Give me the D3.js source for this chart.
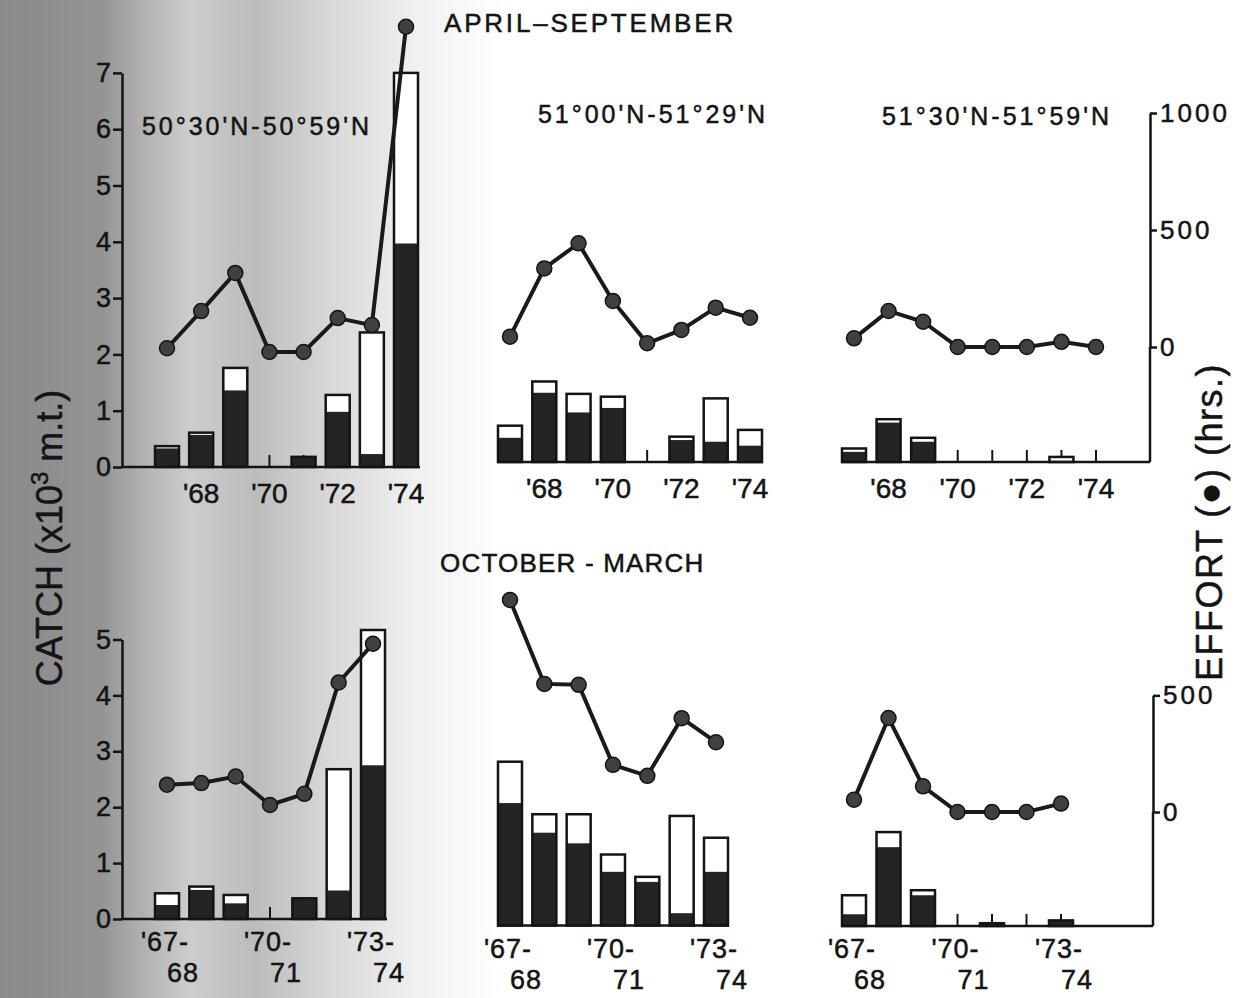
<!DOCTYPE html>
<html>
<head>
<meta charset="utf-8">
<script src="https://cdn.jsdelivr.net/npm/d3@7"></script>
<style>
  body { margin: 0; background: #fff; }
  svg { display: block; font-family: "Liberation Sans", Arial, sans-serif; }
  svg text { stroke: #141414; stroke-width: 0.5px; }
</style>
</head>
<body>
<div id="chart"></div>
<script>
// categories
const summerYears = ["1967", "1968", "1969", "1970", "1971", "1972", "1973", "1974"]
const winterSeasons = ["1967-68", "1968-69", "1969-70", "1970-71", "1971-72", "1972-73", "1973-74"]
const latBands = ["50°30'N-50°59'N", "51°00'N-51°29'N", "51°30'N-51°59'N"]

// April-September, catch (x10^3 t): total bar height and dark (lower) part, effort (hrs)
const aprTotal50 = [0.37, 0.61, 1.76, 0, 0.18, 1.28, 2.39, 7.0]
const aprDark50 = [0.33, 0.57, 1.36, 0, 0.18, 0.98, 0.23, 3.97]
const aprEffort50 = [16, 175, 338, 0, 0, 145, 115, 1390]

const aprTotal51a = [0.645, 1.43, 1.21, 1.16, 0, 0.45, 1.13, 0.57]
const aprDark51a = [0.43, 1.23, 0.88, 0.96, 0, 0.39, 0.36, 0.29]
const aprEffort51a = [44, 336, 443, 197, 16, 73, 168, 125]

const aprTotal51b = [0.24, 0.76, 0.43, 0, 0, 0, 0.09, 0]
const aprDark51b = [0.18, 0.70, 0.36, 0, 0, 0, 0, 0]
const aprEffort51b = [37, 154, 108, 0, 0, 0, 22, 0]

// October-March
const octTotal50 = [0.46, 0.58, 0.43, 0, 0.37, 2.68, 5.17]
const octDark50 = [0.25, 0.52, 0.28, 0, 0.37, 0.51, 2.75]
const octEffort50 = [87, 94, 122, 0, 48, 525, 691]

const octTotal51a = [2.93, 1.99, 1.99, 1.27, 0.87, 1.96, 1.57]
const octDark51a = [2.19, 1.66, 1.47, 0.96, 0.78, 0.22, 0.96]
const octEffort51a = [907, 547, 543, 200, 153, 400, 297]

const octTotal51b = [0.55, 1.68, 0.64, 0, 0.05, 0, 0.1]
const octDark51b = [0.21, 1.41, 0.55, 0, 0.05, 0, 0.1]
const octEffort51b = [53, 403, 110, 0, 0, 0, 36]

// tick labels
const summerTicks = ["1968", "1970", "1972", "1974"]
const summerTickLabels = ["'68", "'70", "'72", "'74"]
const winterTicks = ["1967-68", "1970-71", "1973-74"]
const winterTickLabels = [["'67-", "68"], ["'70-", "71"], ["'73-", "74"]]

const catchTicksTop = [0, 1, 2, 3, 4, 5, 6, 7]
const catchTicksBottom = [0, 1, 2, 3, 4, 5]
const effortTicksTop = [0, 500, 1000]
const effortTicksBottom = [0, 500]

const width = 1235, height = 998
const ink = "#141414"
const barW = 24

const svg = d3.select("#chart").append("svg")
    .attr("width", width).attr("height", height)

// scanned-page shading on the left
const grad = svg.append("defs").append("linearGradient")
    .attr("id", "scan").attr("gradientUnits", "userSpaceOnUse")
    .attr("x1", 0).attr("x2", width).attr("y1", 0).attr("y2", 0)
const stops = [[0, "#8a8a8a"], [100, "#939393"], [150, "#b6b6b6"], [190, "#cdcdcd"],
               [255, "#bcbcbc"], [330, "#d8d8d8"], [420, "#f1f1f1"], [500, "#ffffff"]]
stops.forEach(s => grad.append("stop").attr("offset", s[0] / width).attr("stop-color", s[1]))
svg.append("rect").attr("width", width).attr("height", height).attr("fill", "url(#scan)")

function drawPanel(p) {
    const g = svg.append("g")
    const x = d3.scalePoint().domain(p.cats).range([p.x0, p.x1])
    const y = d3.scaleLinear().domain([0, p.catchMax])
                .range([p.base, p.base - p.catchMax * p.catchPx])
    const zero = p.base - p.zeroOff
    const e = d3.scaleLinear().domain([0, p.effortMax])
                .range([zero, zero - p.effortMax * p.effortPx])

    const first = p.cats[0], last = p.cats[p.cats.length - 1]
    const axisFrom = p.leftX != null ? p.leftX : x(first) - barW / 2 - 1
    const axisTo = p.rightX != null ? p.rightX : x(last) + barW / 2 + p.tail

    // small ticks on the x axis for every year
    g.selectAll(".xt").data(p.cats).enter().append("line")
        .attr("x1", d => x(d)).attr("x2", d => x(d))
        .attr("y1", p.base).attr("y2", p.base - 12)
        .style("stroke", ink).style("stroke-width", 2)

    const rows = p.cats.map((c, i) => ({ c: c, total: p.total[i], dark: p.dark[i], effort: p.effort[i] }))
    const bars = rows.filter(d => d.total > 0)

    g.selectAll(".bw").data(bars).enter().append("rect")
        .attr("x", d => x(d.c) - barW / 2).attr("width", barW)
        .attr("y", d => y(d.total)).attr("height", d => y(0) - y(d.total))
        .style("fill", "#fff")
    g.selectAll(".bd").data(bars.filter(d => d.dark > 0)).enter().append("rect")
        .attr("x", d => x(d.c) - barW / 2).attr("width", barW)
        .attr("y", d => y(d.dark)).attr("height", d => y(0) - y(d.dark))
        .style("fill", "#242424")
    g.selectAll(".bo").data(bars).enter().append("rect")
        .attr("x", d => x(d.c) - barW / 2).attr("width", barW)
        .attr("y", d => y(d.total)).attr("height", d => y(0) - y(d.total))
        .style("fill", "none").style("stroke", ink).style("stroke-width", 2.5)

    g.append("line")
        .attr("x1", axisFrom).attr("x2", axisTo)
        .attr("y1", p.base).attr("y2", p.base)
        .style("stroke", ink).style("stroke-width", 2.5)

    // effort line
    const line = d3.line().x(d => x(d.c)).y(d => e(d.effort))
    g.append("path").datum(rows)
        .attr("d", line)
        .style("fill", "none").style("stroke", "#1a1a1a").style("stroke-width", 4)
    g.selectAll(".pt").data(rows).enter().append("circle")
        .attr("cx", d => x(d.c)).attr("cy", d => e(d.effort)).attr("r", 7.5)
        .style("fill", "#404040").style("stroke", "#151515").style("stroke-width", 1.5)

    // x labels
    if (p.tickLabels[0] instanceof Array) {
        p.ticks.forEach((t, i) => {
            g.append("text").attr("x", x(t) - 2).attr("y", p.base + p.lab1)
                .attr("text-anchor", "middle").style("font-size", "27px")
                .style("letter-spacing", "1px").style("fill", ink)
                .text(p.tickLabels[i][0])
            g.append("text").attr("x", x(t) + 16).attr("y", p.base + p.lab2)
                .attr("text-anchor", "middle").style("font-size", "27px")
                .style("letter-spacing", "1px").style("fill", ink)
                .text(p.tickLabels[i][1])
        })
    } else {
        p.ticks.forEach((t, i) => {
            g.append("text").attr("x", x(t)).attr("y", p.base + p.lab1)
                .attr("text-anchor", "middle").style("font-size", "28px").style("fill", ink)
                .text(p.tickLabels[i])
        })
    }

    if (p.title) {
        g.append("text").attr("x", p.titleX).attr("y", p.titleY)
            .attr("text-anchor", "middle").style("font-size", "25px")
            .style("letter-spacing", "3px").style("fill", ink)
            .text(p.title)
    }

    if (p.leftX != null) {
        const ax = g.append("g").attr("transform", `translate(${p.leftX},0)`)
            .call(d3.axisLeft(y).tickValues(p.catchTicks).tickFormat(d3.format("d"))
                .tickSize(9).tickSizeOuter(0).tickPadding(2))
        ax.select(".domain").style("stroke", ink).style("stroke-width", 2.5)
        ax.selectAll(".tick line").style("stroke", ink).style("stroke-width", 2.5)
        ax.selectAll(".tick text").style("font-size", "27px").style("fill", ink)
            .style("font-family", "'Liberation Sans', Arial, sans-serif")
    }

    if (p.rightX != null) {
        const ax = g.append("g").attr("transform", `translate(${p.rightX},0)`)
            .call(d3.axisRight(e).tickValues(p.effortTicks).tickFormat(d3.format("d"))
                .tickSize(7).tickSizeOuter(0).tickPadding(3))
        ax.select(".domain").style("stroke", ink).style("stroke-width", 2.5)
        ax.selectAll(".tick line").style("stroke", ink).style("stroke-width", 2.5)
        ax.selectAll(".tick text").style("font-size", "26px").style("fill", ink)
            .style("letter-spacing", "3px")
            .style("font-family", "'Liberation Sans', Arial, sans-serif")
        g.append("line").attr("x1", p.rightX).attr("x2", p.rightX)
            .attr("y1", e(0)).attr("y2", p.base)
            .style("stroke", ink).style("stroke-width", 2.5)
    }
}

const topRow = { cats: summerYears, catchMax: 7, catchPx: 56.3, effortMax: 1000, effortPx: 0.234, zeroOff: 115,
                 ticks: summerTicks, tickLabels: summerTickLabels, lab1: 36, catchTicks: catchTicksTop, effortTicks: effortTicksTop }
const bottomRow = { cats: winterSeasons, catchMax: 5, catchPx: 55.9, effortMax: 500, effortPx: 0.2333, zeroOff: 114,
                    ticks: winterTicks, tickLabels: winterTickLabels, lab1: 32, lab2: 63, catchTicks: catchTicksBottom, effortTicks: effortTicksBottom }

drawPanel(Object.assign({}, topRow, { x0: 167, x1: 406, base: 467, leftX: 122, tail: 2,
    total: aprTotal50, dark: aprDark50, effort: aprEffort50, title: latBands[0], titleX: 257, titleY: 135 }))
drawPanel(Object.assign({}, topRow, { x0: 510, x1: 750, base: 462, tail: 1,
    total: aprTotal51a, dark: aprDark51a, effort: aprEffort51a, title: latBands[1], titleX: 653, titleY: 123 }))
drawPanel(Object.assign({}, topRow, { x0: 854, x1: 1096, base: 462, rightX: 1150, tail: 1,
    total: aprTotal51b, dark: aprDark51b, effort: aprEffort51b, title: latBands[2], titleX: 997, titleY: 125 }))

drawPanel(Object.assign({}, bottomRow, { x0: 167, x1: 373, base: 919, leftX: 122, tail: 2,
    total: octTotal50, dark: octDark50, effort: octEffort50 }))
drawPanel(Object.assign({}, bottomRow, { x0: 510, x1: 716, base: 925.5, tail: 1,
    total: octTotal51a, dark: octDark51a, effort: octEffort51a }))
drawPanel(Object.assign({}, bottomRow, { x0: 854, x1: 1061, base: 926, rightX: 1153, tail: 1,
    total: octTotal51b, dark: octDark51b, effort: octEffort51b }))

// season headings
svg.append("text").attr("x", 444).attr("y", 32)
    .style("font-size", "26px").style("letter-spacing", "2.8px").style("fill", ink)
    .text("APRIL–SEPTEMBER")
svg.append("text").attr("x", 440).attr("y", 572)
    .style("font-size", "26px").style("letter-spacing", "1.2px").style("fill", ink)
    .text("OCTOBER - MARCH")

// axis titles
const catchLabel = svg.append("text")
    .attr("transform", "translate(62,538) rotate(-90)")
    .attr("text-anchor", "middle").style("font-size", "36px").style("fill", ink)
catchLabel.append("tspan").text("CATCH (x10")
catchLabel.append("tspan").attr("dy", -14).style("font-size", "24px").text("3")
catchLabel.append("tspan").attr("dy", 14).text(" m.t.)")

svg.append("text")
    .attr("transform", "translate(1222,522) rotate(-90)")
    .attr("text-anchor", "middle").style("font-size", "36px")
    .style("letter-spacing", "1.5px").style("fill", ink)
    .text("EFFORT (●) (hrs.)")
</script>
</body>
</html>
